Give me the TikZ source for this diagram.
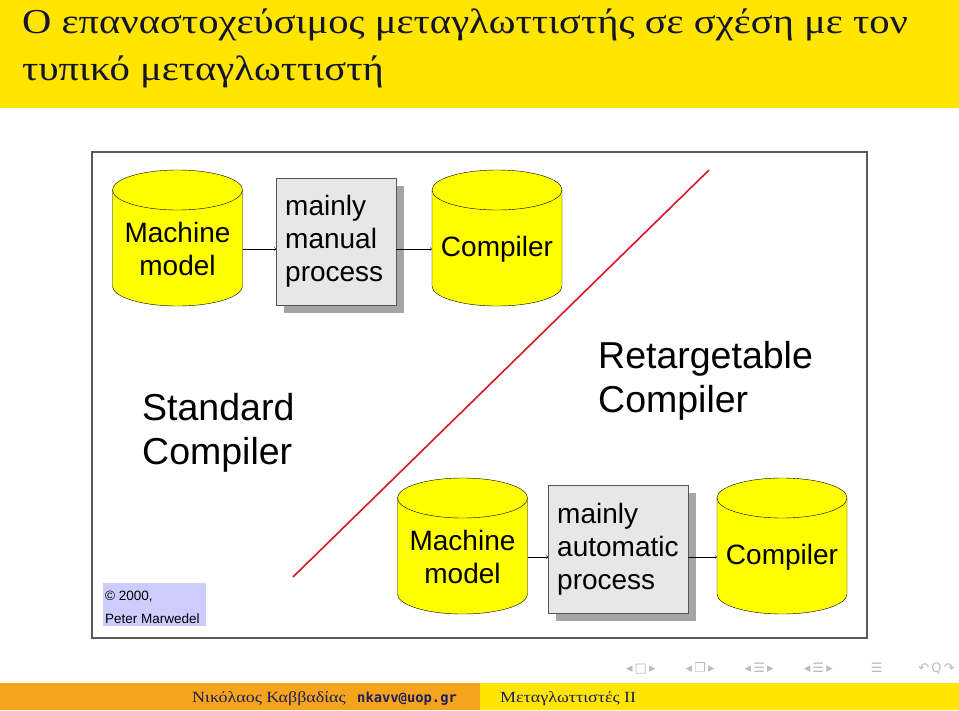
\documentclass[tikz,border=0pt]{standalone}
\usepackage{fontspec}
\usetikzlibrary{shadows}
\newfontfamily\greekfont[FakeStretch=1.16]{Liberation Serif}
\newfontfamily\arialfont{Liberation Sans}
\newfontfamily\navfont{DejaVu Sans}
\newfontfamily\mailfont{DejaVu Sans Mono}
\definecolor{barYellow}{RGB}{255,229,0}
\definecolor{footOrange}{RGB}{247,164,29}
\definecolor{cylYellow}{RGB}{255,255,0}
\definecolor{boxGray}{RGB}{231,231,231}
\definecolor{boxLine}{RGB}{85,85,85}
\definecolor{shadowGray}{RGB}{165,165,165}
\definecolor{frameGray}{RGB}{90,90,90}
\definecolor{noteBlue}{RGB}{204,204,255}
\definecolor{titleText}{RGB}{20,20,45}
\definecolor{footText}{RGB}{30,30,90}
\definecolor{navGray}{RGB}{185,185,195}
\definecolor{lineRed}{RGB}{220,20,40}
\newcommand{\drum}[4]{%
  \path[draw=black,fill=cylYellow] (#2,#3+20) -- (#2,#3+116) arc[start angle=180,end angle=360,x radius=65pt,y radius=20pt] -- (#2+130,#3+20) arc[start angle=0,end angle=180,x radius=65pt,y radius=20pt] -- cycle;
  \draw (#2,#3+20) arc[start angle=180,end angle=360,x radius=65pt,y radius=20pt];
  \node[cyltext] (#1) at (#2+65,#3+79) {#4};
}

\begin{document}
\begin{tikzpicture}[x=1pt,y=-1pt,
  cyltext/.style={minimum width=130pt,inner sep=0pt,align=center,font=\arialfont\fontsize{28}{33}\selectfont},
  proc/.style={shape=rectangle,draw=boxLine,fill=boxGray,drop shadow={shadow xshift=8pt,shadow yshift=-8pt,fill=shadowGray,opacity=1},anchor=north west,inner xsep=9pt,align=left,font=\arialfont\fontsize{28}{33}\selectfont},
  big/.style={anchor=base west,align=left,inner sep=0pt,font=\arialfont\fontsize{37.5}{44}\selectfont}]
\useasboundingbox (0,0) rectangle (959,710);
\fill[barYellow] (0,0) rectangle (959,108);
\fill[footOrange] (0,683) rectangle (480,710);
\fill[barYellow] (480,683) rectangle (959,710);

\node[anchor=base west,align=left,inner sep=0pt,text=titleText,font=\greekfont\fontsize{35}{47}\selectfont] (title) at (22,80) {Ο επαναστοχεύσιμος μεταγλωττιστής σε σχέση με τον\\τυπικό μεταγλωττιστή};

\draw[frameGray,line width=1.2pt,fill=white] (92,152) rectangle (867,638);
\draw[lineRed,line width=1.6pt] (293,577) -- (709,170);

\drum{MM1}{112.5}{170}{Machine\\model}
\node[proc,text width=102pt,minimum height=127pt] (P1) at (276,178) {mainly\\manual\\process};
\drum{C1}{432}{170}{Compiler}

\drum{MM2}{397.5}{478}{Machine\\model}
\node[proc,text width=122pt,minimum height=128pt] (P2) at (548,485) {mainly\\automatic\\process};
\drum{C2}{717}{478}{Compiler}

\draw[->] (MM1.east) -- (MM1.east -| P1.west);
\draw[->] (MM1.east -| P1.east) -- (C1.west);
\draw[->] (MM2.east) -- (MM2.east -| P2.west);
\draw[->] (MM2.east -| P2.east) -- (C2.west);

\node[big] (std) at (142,464) {Standard\\Compiler};
\node[big] (ret) at (598,412) {Retargetable\\Compiler};

\fill[noteBlue] (103,583) rectangle (206,626);
\node[anchor=base west,align=left,inner sep=0pt,font=\arialfont\fontsize{13.5}{23}\selectfont] (note) at (105,623) {© 2000,\\Peter Marwedel};

\node[anchor=east,inner sep=0pt,text=navGray,font=\navfont\fontsize{13}{13}\selectfont] (nav) at (955,668) {◂\,□\,▸\hspace{30pt}◂\,❐\,▸\hspace{30pt}◂\,☰\,▸\hspace{30pt}◂\,☰\,▸\hspace{38pt}☰\hspace{36pt}↶\,Q\,↷};

\node[anchor=base west,inner sep=0pt,text=footText,font=\greekfont\fontsize{15.5}{15.5}\selectfont] (author) at (192,702) {Νικόλαος Καββαδίας};
\node[anchor=base west,inner sep=0pt,text=footText,font=\mailfont\bfseries\fontsize{13.8}{13.8}\selectfont] (mail) at (357,702) {nkavv@uop.gr};
\node[anchor=base west,inner sep=0pt,text=footText,font=\greekfont\fontsize{15.5}{15.5}\selectfont] (course) at (500,702) {Μεταγλωττιστές ΙΙ};
\end{tikzpicture}
\end{document}
